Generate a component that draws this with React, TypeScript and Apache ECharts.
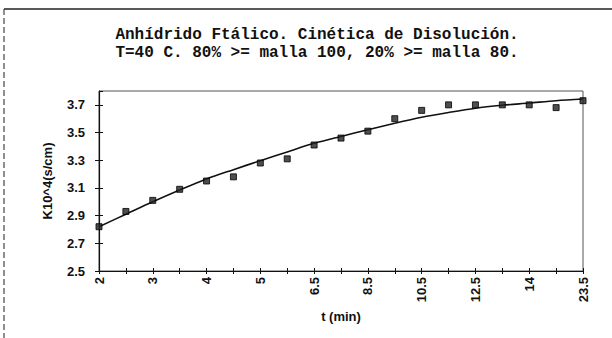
import React, { useEffect, useRef } from "react";
import * as echarts from "echarts";

const categories = ["2", "2.5", "3", "3.5", "4", "4.5", "5", "5.5", "6.5", "7.5", "8.5", "9.5", "10.5", "11.5", "12.5", "13.5", "14", "18", "23.5"];
const measured = [2.82, 2.93, 3.01, 3.09, 3.15, 3.18, 3.28, 3.31, 3.41, 3.46, 3.51, 3.6, 3.66, 3.7, 3.7, 3.7, 3.7, 3.68, 3.73];
const trend = [2.82, 2.91, 3.0, 3.085, 3.165, 3.232, 3.297, 3.36, 3.422, 3.472, 3.52, 3.567, 3.61, 3.645, 3.676, 3.697, 3.713, 3.73, 3.742];
const titleLine1 = "Anhídrido Ftálico. Cinética de Disolución.";
const titleLine2 = "T=40 C. 80% >= malla 100, 20% >= malla 80.";
const yName = "K10^4(s/cm)";
const xName = "t (min)";

export default function App() {
  const ref = useRef<HTMLDivElement>(null);
  useEffect(() => {
    document.body.style.margin = "0";
    const chart = echarts.init(ref.current!, null, { renderer: "svg" });
    const labelFont = { fontFamily: "Liberation Sans", fontWeight: "bold" as const, fontSize: 12, color: "#111" };
    chart.setOption({
      animation: false,
      backgroundColor: "#fff",
      title: {
        text: titleLine1 + "\n" + titleLine2,
        left: 312,
        top: 21,
        textAlign: "center",
        textStyle: {
          fontFamily: "Liberation Mono",
          fontWeight: "bold",
          fontSize: 16,
          lineHeight: 18,
          color: "#111",
        },
      },
      graphic: [
        {
          type: "line",
          shape: { x1: 4, y1: 9, x2: 612, y2: 9 },
          style: { stroke: "#222", lineWidth: 1.5 },
          silent: true,
        },
        {
          type: "line",
          shape: { x1: 4, y1: 9, x2: 4, y2: 338 },
          style: { stroke: "#444", lineWidth: 1.2, lineDash: [6, 3] },
          silent: true,
        },
      ],
      grid: {
        left: 99,
        right: 29,
        top: 91,
        bottom: 67,
        show: true,
        borderColor: "#555",
        borderWidth: 1,
      },
      xAxis: [
        {
          type: "category",
          data: categories,
          boundaryGap: false,
          position: "bottom",
          name: xName,
          nameLocation: "middle",
          nameGap: 30,
          nameTextStyle: { ...labelFont, fontSize: 13 },
          axisLine: { lineStyle: { color: "#111", width: 1.2 } },
          axisTick: { interval: 0, length: 3, lineStyle: { color: "#111" } },
          axisLabel: { ...labelFont, fontSize: 13, interval: 1, rotate: 90, margin: 6 },
          splitLine: { show: false },
        },
        {
          type: "category",
          data: categories,
          boundaryGap: false,
          position: "bottom",
          axisLine: { show: false },
          axisTick: { interval: 0, inside: true, length: 3, lineStyle: { color: "#111" } },
          axisLabel: { show: false },
          splitLine: { show: false },
        },
      ],
      yAxis: [
        {
          type: "value",
          min: 2.5,
          max: 3.8,
          interval: 0.2,
          position: "left",
          name: yName,
          nameLocation: "middle",
          nameGap: 45,
          nameTextStyle: { ...labelFont, fontSize: 13 },
          axisLine: { show: true, lineStyle: { color: "#111", width: 1.2 } },
          axisTick: { show: true, length: 4, lineStyle: { color: "#111" } },
          axisLabel: { ...labelFont, fontSize: 13, margin: 14, showMaxLabel: false, formatter: (v: number) => (Math.abs(v - 3.8) < 1e-6 ? "" : v.toFixed(1)) },
          splitLine: { show: false },
        },
        {
          type: "value",
          min: 2.5,
          max: 3.8,
          interval: 0.2,
          position: "left",
          axisLine: { show: false },
          axisTick: { show: true, inside: true, length: 4, lineStyle: { color: "#111" } },
          axisLabel: { show: false },
          splitLine: { show: false },
        },
      ],
      series: [
        {
          type: "line",
          data: trend,
          smooth: 0.3,
          showSymbol: false,
          symbol: "none",
          lineStyle: { color: "#111", width: 1.6 },
          z: 2,
        },
        {
          type: "scatter",
          data: measured,
          symbol: "rect",
          symbolSize: 6,
          itemStyle: { color: "#222", borderColor: "#000", borderWidth: 1 },
          z: 3,
        },
      ],
    });
    return () => chart.dispose();
  }, []);
  return <div ref={ref} style={{ width: 612, height: 338 }} />;
}
